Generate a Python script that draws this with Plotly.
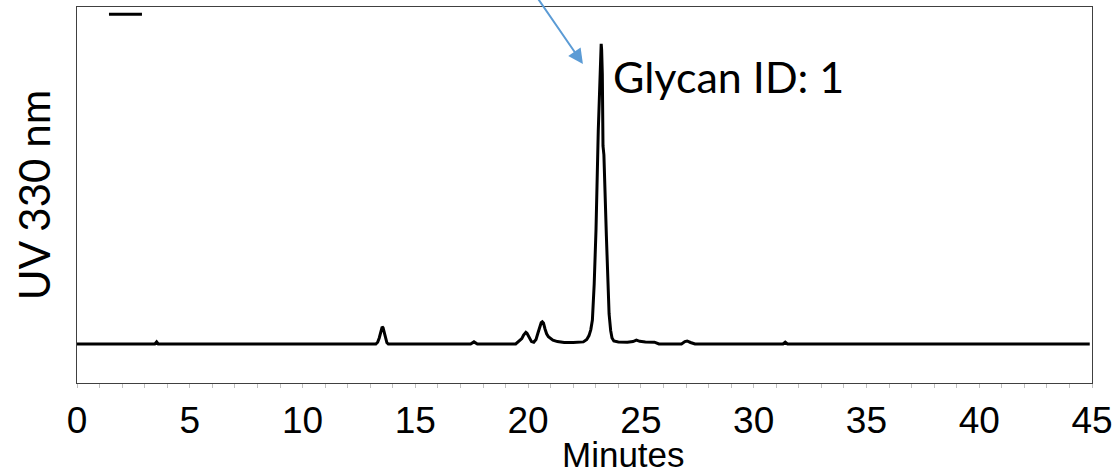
import plotly.graph_objects as go

# HILIC-FLR chromatogram, UV 330 nm trace
time_min = [0.0, 3.45, 3.53, 3.6,
            13.25, 13.33, 13.4, 13.46, 13.5, 13.53, 13.57, 13.62, 13.68, 13.74, 13.8,
            17.45, 17.6, 17.75,
            19.45, 19.55, 19.62, 19.72, 19.8, 19.86, 19.9, 19.95, 20.0, 20.08, 20.15, 20.25,
            20.35, 20.45, 20.52, 20.58, 20.63, 20.68, 20.75, 20.82, 20.9, 21.0, 21.1, 21.3,
            21.6, 22.0, 22.3, 22.45,
            22.6, 22.7, 22.78, 22.85, 22.93, 23.01, 23.11, 23.18, 23.22, 23.24, 23.26,
            23.29, 23.32, 23.36, 23.47, 23.59, 23.66, 23.72, 23.8,
            24.0, 24.4, 24.65, 24.8, 24.95, 25.2, 25.6, 25.8,
            26.8, 26.95, 27.05, 27.2, 27.4,
            31.3, 31.4, 31.5, 44.9]
signal = [0.0, 0.0, 0.7, 0.0,
          0.0, 0.6, 2.0, 4.3, 5.4, 5.7, 5.4, 4.0, 1.6, 0.4, 0.0,
          0.0, 0.7, 0.0,
          0.0, 0.6, 1.0, 1.8, 3.0, 3.7, 3.9, 3.6, 3.0, 1.8, 0.8, 0.6,
          1.5, 4.0, 6.0, 7.1, 7.4, 7.0, 5.0, 3.4, 2.4, 1.7, 1.3, 0.8,
          0.5, 0.5, 0.55, 0.7,
          1.5, 2.8, 4.8, 8.0, 20.0, 38.0, 71.0, 92.0, 98.5, 100.0, 98.0,
          90.0, 66.0, 63.0, 36.0, 10.0, 4.5, 2.0, 1.0,
          0.7, 0.6, 0.8, 1.3, 0.9, 0.7, 0.6, 0.0,
          0.0, 0.8, 1.0, 0.5, 0.0,
          0.0, 0.6, 0.0, 0.0]

x_ticks = [0, 5, 10, 15, 20, 25, 30, 35, 40, 45]
peak_label = "Glycan ID: 1"
peak_time = 23.24
peak_signal = 100.0

fig = go.Figure()
fig.add_trace(go.Scatter(
    x=time_min, y=signal, mode="lines",
    line=dict(color="black", width=3),
    showlegend=False, hoverinfo="skip",
))

# peak label and pointer arrow
fig.add_annotation(
    x=peak_time + 0.45, y=peak_signal - 11, text=peak_label,
    xref="x", yref="y", showarrow=False, xanchor="left", yanchor="middle",
    font=dict(family="Lato", size=43, color="black"),
)
fig.add_annotation(
    x=peak_time - 0.81, y=peak_signal - 6.7, text="",
    xref="x", yref="y", axref="x", ayref="y",
    ax=peak_time - 3.07, ay=peak_signal + 18,
    showarrow=True, arrowhead=2, arrowsize=1.5, arrowwidth=2,
    arrowcolor="#5B9BD5", standoff=0,
)

# x-axis title, set a little right of the plot centre
fig.add_annotation(
    x=0.538, y=-0.19, xref="paper", yref="paper", text="Minutes",
    showarrow=False, xanchor="center", yanchor="middle",
    font=dict(family="Liberation Sans", size=35, color="black"),
)

# legend key stub in the upper-left corner
fig.add_shape(type="line", xref="paper", yref="paper",
              x0=0.0315, x1=0.064, y0=0.981, y1=0.981,
              line=dict(color="black", width=3))

fig.update_layout(
    width=1115, height=475,
    margin=dict(l=77, r=23, t=7, b=92),
    paper_bgcolor="white", plot_bgcolor="white",
    xaxis=dict(
        range=[0, 45], tickvals=x_ticks, ticktext=[str(v) for v in x_ticks],
        ticks="outside", ticklen=4, tickcolor="#bfbfbf", tickwidth=1,
        minor=dict(dtick=1, ticks="outside", ticklen=4, tickcolor="#bfbfbf", tickwidth=1),
        showline=True, linecolor="#404040", linewidth=1, mirror=True,
        showgrid=False, zeroline=False,
        ticklabelstandoff=1,
        tickfont=dict(family="Liberation Sans", size=37, color="black"),
        automargin=False,
    ),
    yaxis=dict(
        range=[-13, 112.3], showticklabels=False, ticks="",
        showline=True, linecolor="#404040", linewidth=1, mirror=True,
        showgrid=False, zeroline=False,
        title=dict(text="UV 330 nm", standoff=12,
                   font=dict(family="Lato", size=42, color="black")),
        automargin=False,
    ),
)

fig.write_html("out.html")
